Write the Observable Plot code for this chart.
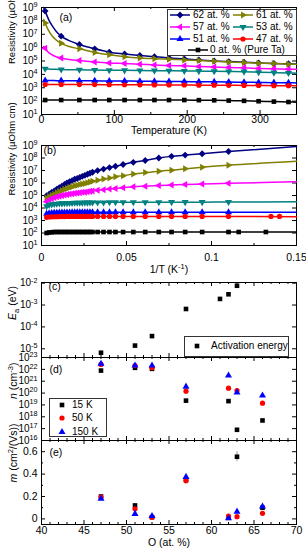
<!DOCTYPE html>
<html><head><meta charset="utf-8">
<script src="https://cdn.jsdelivr.net/npm/d3@7"></script>
<script src="https://cdn.jsdelivr.net/npm/@observablehq/plot@0.6"></script>
<style>
html,body{margin:0;padding:0;background:#fff;}
#chart{position:relative;width:306px;height:550px;overflow:hidden;font-family:"Liberation Sans",Arial,Helvetica,sans-serif;color:#000;}
#chart svg.panel{position:absolute;left:0;}
.lbox{position:absolute;border:1px solid #333;box-sizing:border-box;background:#fff;}
.ltxt{position:absolute;font-size:10px;line-height:1;transform:translateY(-50%);white-space:nowrap;}
.lsw{position:absolute;overflow:visible;}
</style></head><body><div id="chart"></div>
<script>
// ---------------- DATA ----------------
const seriesNames = ["62 at. %", "61 at. %", "57 at. %", "53 at. %", "51 at. %", "47 at. %", "0 at. % (Pure Ta)"];
const seriesColors = ["#000080", "#808000", "#ff00ff", "#008080", "#0000ff", "#ff0000", "#000000"];
const seriesShapes = ["diamond", "triangle-right", "triangle-left", "triangle-down", "triangle-up", "circle", "square"];

// (a) resistivity (µOhm cm) vs temperature (K)
const tempA = [3, 5, 10, 15, 20, 27, 38, 52, 73, 93, 114, 135, 155, 175, 196, 216, 237, 257, 278, 298, 319, 339, 350];
const markTempA = [5, 27, 52, 73, 93, 114, 135, 155, 175, 196, 216, 237, 257, 278, 298, 319, 339];
const rhoA62 = [1.0e9, 5.4e8, 1.2e8, 4.0e7, 1.7e7, 7.2e6, 3.3e6, 1.7e6, 8.1e5, 4.6e5, 3.4e5, 2.6e5, 2.1e5, 1.7e5, 1.45e5, 1.2e5, 1.02e5, 9.1e4, 8.1e4, 7.2e4, 6.5e4, 6.2e4, 6.0e4];
const rhoA61 = [1.3e8, 6.8e7, 1.8e7, 7.0e6, 3.8e6, 2.1e6, 1.2e6, 8.1e5, 4.3e5, 2.9e5, 2.1e5, 1.7e5, 1.5e5, 1.35e5, 1.2e5, 1.07e5, 9.5e4, 8.5e4, 7.8e4, 6.9e4, 6.5e4, 5.8e4, 5.6e4];
const rhoA57 = [1.2e6, 9.1e5, 4.2e5, 2.8e5, 2.1e5, 1.7e5, 1.3e5, 1.07e5, 8.5e4, 7.2e4, 6.5e4, 5.8e4, 5.1e4, 4.6e4, 4.4e4, 3.9e4, 3.6e4, 3.2e4, 3.1e4, 2.75e4, 2.6e4, 2.45e4, 2.4e4];
const rhoA53 = [2.7e4, 2.6e4, 2.5e4, 2.45e4, 2.4e4, 2.3e4, 2.25e4, 2.2e4, 2.1e4, 2.05e4, 2.0e4, 1.95e4, 1.9e4, 1.85e4, 1.8e4, 1.75e4, 1.7e4, 1.65e4, 1.6e4, 1.45e4, 1.35e4, 1.28e4, 1.23e4];
const rhoA51 = [3.5e3, 3.5e3, 3.45e3, 3.45e3, 3.4e3, 3.4e3, 3.38e3, 3.35e3, 3.3e3, 3.2e3, 3.15e3, 3.1e3, 3.0e3, 2.95e3, 2.9e3, 2.8e3, 2.75e3, 2.65e3, 2.6e3, 2.5e3, 2.4e3, 2.35e3, 2.3e3];
const rhoA47 = [1.75e3, 1.75e3, 1.75e3, 1.75e3, 1.75e3, 1.75e3, 1.74e3, 1.74e3, 1.72e3, 1.7e3, 1.68e3, 1.66e3, 1.64e3, 1.62e3, 1.6e3, 1.57e3, 1.55e3, 1.52e3, 1.5e3, 1.47e3, 1.44e3, 1.42e3, 1.4e3];
const rhoA0 = [120, 120, 120, 120, 120, 120, 120, 120, 120, 120, 120, 120, 120, 120, 120, 118, 115, 110, 105, 98, 92, 86, 83];
const rhoA = [rhoA62, rhoA61, rhoA57, rhoA53, rhoA51, rhoA47, rhoA0];

// (b) resistivity vs 1/T (1/K)
const invB = [0.003, 0.0045, 0.006, 0.0075, 0.009, 0.0105, 0.012, 0.0135, 0.015, 0.0165, 0.018, 0.0195, 0.021, 0.0225, 0.024, 0.0255, 0.027, 0.0285, 0.030, 0.033, 0.0365, 0.040, 0.0435, 0.048, 0.054, 0.061, 0.069, 0.0765, 0.0845, 0.0945, 0.11, 0.15];
const markMaxB = 0.11;
const rhoB62 = [9.5e4, 1.26e5, 1.8e5, 2.3e5, 3.2e5, 4.3e5, 5.6e5, 7.6e5, 1.0e6, 1.26e6, 1.55e6, 2.0e6, 2.3e6, 2.8e6, 3.4e6, 4.1e6, 5.0e6, 6.0e6, 7.2e6, 9.8e6, 1.3e7, 1.7e7, 2.2e7, 3.0e7, 4.5e7, 6.3e7, 1.0e8, 1.35e8, 1.7e8, 2.2e8, 3.3e8, 8.3e8];
const rhoB61 = [6.3e4, 8.3e4, 1.05e5, 1.26e5, 1.66e5, 2.1e5, 2.5e5, 3.2e5, 3.7e5, 4.3e5, 4.9e5, 6.0e5, 6.6e5, 7.6e5, 8.3e5, 9.3e5, 1.05e6, 1.2e6, 1.35e6, 1.66e6, 2.1e6, 2.5e6, 3.2e6, 3.8e6, 5.2e6, 6.8e6, 8.7e6, 1.07e7, 1.35e7, 1.8e7, 2.6e7, 5.4e7];
const rhoB57 = [3.2e4, 4.5e4, 5.6e4, 6.8e4, 7.9e4, 8.9e4, 1.0e5, 1.1e5, 1.2e5, 1.3e5, 1.38e5, 1.48e5, 1.58e5, 1.66e5, 1.78e5, 1.86e5, 2.0e5, 2.14e5, 2.3e5, 2.6e5, 2.95e5, 3.3e5, 3.7e5, 4.2e5, 5.0e5, 5.6e5, 6.3e5, 6.9e5, 7.6e5, 8.3e5, 9.5e5, 1.26e6];
const rhoB53 = [1.4e4, 1.75e4, 1.95e4, 2.1e4, 2.2e4, 2.3e4, 2.35e4, 2.4e4, 2.45e4, 2.5e4, 2.55e4, 2.6e4, 2.6e4, 2.65e4, 2.65e4, 2.7e4, 2.7e4, 2.75e4, 2.75e4, 2.8e4, 2.8e4, 2.85e4, 2.85e4, 2.85e4, 2.9e4, 2.9e4, 2.9e4, 2.95e4, 2.95e4, 2.95e4, 3.0e4, 3.1e4];
const rhoB51 = [3.5e3, 3.8e3, 4.0e3, 4.1e3, 4.2e3, 4.25e3, 4.3e3, 4.35e3, 4.4e3, 4.4e3, 4.45e3, 4.45e3, 4.5e3, 4.5e3, 4.5e3, 4.55e3, 4.55e3, 4.55e3, 4.6e3, 4.6e3, 4.6e3, 4.6e3, 4.6e3, 4.6e3, 4.6e3, 4.6e3, 4.6e3, 4.6e3, 4.6e3, 4.6e3, 4.6e3, 4.6e3];
const rhoB47 = [1.8e3, 1.9e3, 1.95e3, 2.0e3, 2.0e3, 2.05e3, 2.05e3, 2.05e3, 2.1e3, 2.1e3, 2.1e3, 2.1e3, 2.1e3, 2.1e3, 2.1e3, 2.1e3, 2.1e3, 2.1e3, 2.1e3, 2.1e3, 2.1e3, 2.1e3, 2.1e3, 2.1e3, 2.1e3, 2.1e3, 2.1e3, 2.1e3, 2.1e3, 2.1e3, 2.1e3, 2.0e3];
const rhoB0 = [100, 110, 115, 120, 120, 120, 120, 120, 120, 120, 120, 120, 120, 120, 120, 120, 120, 120, 120, 120, 120, 120, 120, 120, 120, 120, 120, 120, 120, 120, 120, 120];
const rhoB = [rhoB62, rhoB61, rhoB57, rhoB53, rhoB51, rhoB47, rhoB0];
// extra low-temperature points seen only for 47 % and pure Ta in (b)
const extraInvB47 = [0.135, 0.14], extraRhoB47 = [2.1e3, 2.1e3];
const extraInvB0 = [0.116, 0.132], extraRhoB0 = [120, 120];

// (c) activation energy (eV) vs O content
const oxygenC = [47, 51, 53, 57, 61, 62, 63];
const energyC = [6.6e-6, 1.4e-5, 3.8e-5, 6.6e-4, 1.9e-3, 3.1e-3, 7.6e-3];

// (d) carrier density (cm^-3) and (e) mobility (cm^2/(Vs)) vs O content
const oxygenDE = [47, 51, 53, 57, 62, 63, 66];
const tempLabels = ["15 K", "50 K", "150 K"];
const densD15 = [7.9e21, 1.35e22, 1.1e22, 2.3e19, 2.1e19, 8.0e16, 4.9e17];
const densD50 = [2.6e22, 2.1e22, 1.35e22, 1.45e20, 2.6e20, 1.65e20, 1.4e19];
const densD150 = [3.0e22, 2.1e22, 2.1e22, 3.5e20, 3.0e21, 1.1e20, 6.3e19];
const mobE15 = [0.20, 0.12, 0.015, 0.35, 0.01, 0.555, 0.10];
const mobE50 = [0.195, 0.09, 0.015, 0.34, 0.025, 0.02, 0.05];
const mobE150 = [0.18, 0.045, 0.025, 0.375, 0.005, 0.065, 0.11];
const mobErr15 = [0, 0, 0, 0, 0, 0.045, 0];
const tempColors = ["#000000", "#ff0000", "#0000ff"];
const tempShapes = ["square", "circle", "triangle-up"];

// tick values
const ticksXA = [0, 100, 200, 300], minorXA = [50, 150, 250];
const ticksXB = [0, 0.05, 0.1, 0.15], minorXB = [0.025, 0.075, 0.125];
const ticksYAB = [1e1, 1e2, 1e3, 1e4, 1e5, 1e6, 1e7, 1e8, 1e9];
const ticksYC = [1e-5, 1e-4, 1e-3, 1e-2];
const ticksYD = [1e16, 1e17, 1e18, 1e19, 1e20, 1e21, 1e22, 1e23];
const ticksYE = [0, 0.2, 0.4, 0.6], minorYE = [0.1, 0.3, 0.5];
const ticksXO = [40, 45, 50, 55, 60, 65, 70], minorXO = [41,42,43,44,46,47,48,49,51,52,53,54,56,57,58,59,61,62,63,64,66,67,68,69];

// ---------------- HELPERS ----------------
const W = 306, ML = 41, MR = 10, FW = W - ML - MR;
const FONT = "'Liberation Sans', Arial, Helvetica, sans-serif";
const chart = document.getElementById("chart");

function symbolOf(kind) {
  if (kind === "circle") return d3.symbolCircle;
  if (kind === "square") return d3.symbolSquare;
  if (kind === "diamond") return {draw(c, s) { const h = Math.sqrt(s / 2) * 1.05; c.moveTo(0, -h); c.lineTo(h, 0); c.lineTo(0, h); c.lineTo(-h, 0); c.closePath(); }};
  const ang = {"triangle-up": 0, "triangle-right": 90, "triangle-down": 180, "triangle-left": 270}[kind];
  return {draw(c, s) {
    const r = Math.sqrt(s / (3 * Math.sqrt(3) / 4));
    for (let k = 0; k < 3; k++) {
      const a = (ang + k * 120) * Math.PI / 180, x = r * Math.sin(a), y = -r * Math.cos(a);
      if (k) c.lineTo(x, y); else c.moveTo(x, y);
    }
    c.closePath();
  }};
}

function frameTicks(xMaj, xMin, yMaj, yMin, fh) {
  const m = [];
  const xt = (v, len) => { if (v.length) { m.push(Plot.ruleX(v, {insetTop: fh - len, stroke: "#000"})); m.push(Plot.ruleX(v, {insetBottom: fh - len, stroke: "#000"})); } };
  const yt = (v, len) => { if (v.length) { m.push(Plot.ruleY(v, {insetRight: FW - len, stroke: "#000"})); m.push(Plot.ruleY(v, {insetLeft: FW - len, stroke: "#000"})); } };
  xt(xMaj, 4); xt(xMin, 2); yt(yMaj, 4); yt(yMin, 2);
  return m;
}

const logFmt = d => "10^{" + Math.round(Math.log10(d)) + "}";

function richify(root) {
  const walker = document.createTreeWalker(root, NodeFilter.SHOW_TEXT);
  const nodes = [];
  while (walker.nextNode()) nodes.push(walker.currentNode);
  const splitter = /(\^\{[^}]*\}|_\{[^}]*\}|\*\{[^}]*\})/;
  for (const node of nodes) {
    const s = node.nodeValue;
    if (!splitter.test(s)) continue;
    const parent = node.parentNode;
    const base = parseFloat(getComputedStyle(parent).fontSize) || 10;
    const parts = s.split(splitter).filter(p => p !== "");
    let shift = 0;
    const frag = document.createDocumentFragment();
    for (const p of parts) {
      const ts = document.createElementNS("http://www.w3.org/2000/svg", "tspan");
      let target = 0, txt = p, size = null, italic = false;
      if (p.startsWith("^{")) { target = -0.38 * base; txt = p.slice(2, -1); size = 0.72 * base; }
      else if (p.startsWith("_{")) { target = 0.25 * base; txt = p.slice(2, -1); size = 0.72 * base; }
      else if (p.startsWith("*{")) { txt = p.slice(2, -1); italic = true; }
      const dy = target - shift;
      if (Math.abs(dy) > 1e-6) ts.setAttribute("dy", dy.toFixed(2));
      shift = target;
      if (size) ts.setAttribute("font-size", size.toFixed(2));
      if (italic) ts.setAttribute("font-style", "italic");
      ts.textContent = txt;
      frag.appendChild(ts);
    }
    parent.replaceChild(frag, node);
  }
}

function place(svg, top) {
  svg.classList.add("panel");
  svg.style.top = top + "px";
  chart.appendChild(svg);
  richify(svg);
}

const baseStyle = {background: "transparent", fontFamily: FONT, fontSize: "10px", overflow: "visible"};

// ---------------- PANEL (a) ----------------
{
  const mt = 7, mb = 21, h = 135, fh = h - mt - mb;
  const marks = [Plot.frame({stroke: "#000"}), ...frameTicks(ticksXA, minorXA, ticksYAB, [], fh)];
  seriesNames.forEach((name, s) => {
    const rows = tempA.map((T, i) => ({T, v: rhoA[s][i]}));
    marks.push(Plot.line(rows, {x: "T", y: "v", stroke: seriesColors[s], strokeWidth: 1.5, curve: "monotone-x"}));
    marks.push(Plot.dot(rows.filter(d => markTempA.includes(d.T)), {x: "T", y: "v", r: 2.6, fill: seriesColors[s], symbol: symbolOf(seriesShapes[s])}));
  });
  marks.push(Plot.text(ticksXA, {x: d => d, frameAnchor: "bottom", dy: 5, text: d => String(d), lineAnchor: "middle", fontSize: 10.5}));
  marks.push(Plot.text(ticksYAB, {y: d => d, frameAnchor: "left", dx: -4, textAnchor: "end", text: logFmt, lineAnchor: "middle", fontSize: 10}));
  marks.push(Plot.text(["Temperature (K)"], {frameAnchor: "bottom", dy: 16, lineAnchor: "middle", fontSize: 10.5}));
  marks.push(Plot.text(["Resistivity (µOhm cm)"], {frameAnchor: "left", dx: -30, dy: 3, rotate: -90, lineAnchor: "middle", fontSize: 9.5}));
  marks.push(Plot.text(["(a)"], {frameAnchor: "top-left", dx: 18, dy: 10, textAnchor: "start", lineAnchor: "middle", fontSize: 10.5}));
  const svg = Plot.plot({width: W, height: h, marginLeft: ML, marginRight: MR, marginTop: mt, marginBottom: mb,
    style: baseStyle, x: {domain: [0, 350], axis: null}, y: {type: "log", domain: [10, 1e9], axis: null}, marks});
  place(svg, 0);
}

// ---------------- PANEL (b) ----------------
{
  const top = 135, mt = 10, mb = 35, h = 145, fh = h - mt - mb;
  const marks = [Plot.frame({stroke: "#000"}), ...frameTicks(ticksXB, minorXB, ticksYAB, [], fh)];
  seriesNames.forEach((name, s) => {
    const rows = invB.map((x, i) => ({x, v: rhoB[s][i]}));
    marks.push(Plot.line(rows, {x: "x", y: "v", stroke: seriesColors[s], strokeWidth: 1.5, curve: "monotone-x"}));
    marks.push(Plot.dot(rows.filter(d => d.x <= markMaxB), {x: "x", y: "v", r: 2.6, fill: seriesColors[s], symbol: symbolOf(seriesShapes[s])}));
  });
  marks.push(Plot.dot(extraInvB47.map((x, i) => ({x, v: extraRhoB47[i]})), {x: "x", y: "v", r: 2.6, fill: seriesColors[5], symbol: symbolOf(seriesShapes[5])}));
  marks.push(Plot.dot(extraInvB0.map((x, i) => ({x, v: extraRhoB0[i]})), {x: "x", y: "v", r: 2.6, fill: seriesColors[6], symbol: symbolOf(seriesShapes[6])}));
  marks.push(Plot.text(ticksXB, {x: d => d, frameAnchor: "bottom", dy: 12, text: d => String(d), lineAnchor: "middle", fontSize: 10.5}));
  marks.push(Plot.text(ticksYAB, {y: d => d, frameAnchor: "left", dx: -4, textAnchor: "end", text: logFmt, lineAnchor: "middle", fontSize: 10}));
  marks.push(Plot.text(["1/T (K^{-1})"], {frameAnchor: "bottom", dy: 24, lineAnchor: "middle", fontSize: 10.5}));
  marks.push(Plot.text(["Resistivity (µOhm cm)"], {frameAnchor: "left", dx: -30, rotate: -90, lineAnchor: "middle", fontSize: 9.5}));
  marks.push(Plot.text(["(b)"], {frameAnchor: "top-left", dx: 2, dy: 5, textAnchor: "start", lineAnchor: "middle", fontSize: 10.5}));
  const svg = Plot.plot({width: W, height: h, marginLeft: ML, marginRight: MR, marginTop: mt, marginBottom: mb,
    style: baseStyle, x: {domain: [0, 0.15], axis: null}, y: {type: "log", domain: [10, 1e9], axis: null}, marks});
  place(svg, top);
}

// ---------------- PANEL (c) ----------------
{
  const top = 270, mt = 12, mb = 3, h = 90, fh = h - mt - mb;
  const rows = oxygenC.map((o, i) => ({o, v: energyC[i]}));
  const marks = [Plot.frame({stroke: "#000"}), ...frameTicks(ticksXO, minorXO, ticksYC, [], fh),
    Plot.dot(rows, {x: "o", y: "v", r: 2.6, fill: "#000", symbol: d3.symbolSquare}),
    Plot.text(ticksYC, {y: d => d, frameAnchor: "left", dx: -4, textAnchor: "end", text: logFmt, lineAnchor: "middle", fontSize: 10}),
    Plot.text(["*{E}_{a} (eV)"], {frameAnchor: "left", dx: -29, rotate: -90, lineAnchor: "middle", fontSize: 10.5}),
    Plot.text(["(c)"], {frameAnchor: "top-left", dx: 7, dy: 4, textAnchor: "start", lineAnchor: "middle", fontSize: 10.5})];
  const svg = Plot.plot({width: W, height: h, marginLeft: ML, marginRight: MR, marginTop: mt, marginBottom: mb,
    style: baseStyle, x: {domain: [40, 70], axis: null}, y: {type: "log", domain: [4e-6, 1.07e-2], axis: null}, marks});
  place(svg, top);
}

// ---------------- PANEL (d) ----------------
{
  const top = 350, mt = 7, mb = 0, h = 90, fh = h - mt - mb;
  const sets = [densD15, densD50, densD150];
  const marks = [Plot.frame({stroke: "#000"}), ...frameTicks(ticksXO, minorXO, ticksYD, [], fh)];
  sets.forEach((arr, k) => {
    const rows = oxygenDE.map((o, i) => ({o, v: arr[i]}));
    marks.push(Plot.dot(rows, {x: "o", y: "v", r: 2.6, fill: tempColors[k], symbol: symbolOf(tempShapes[k])}));
  });
  marks.push(Plot.text(ticksYD, {y: d => d, frameAnchor: "left", dx: -4, textAnchor: "end", text: logFmt, lineAnchor: "middle", fontSize: 10}));
  marks.push(Plot.text(["*{n} (cm^{-3})"], {frameAnchor: "left", dx: -28, rotate: -90, lineAnchor: "middle", fontSize: 10.5}));
  marks.push(Plot.text(["(d)"], {frameAnchor: "top-left", dx: 8, dy: 12, textAnchor: "start", lineAnchor: "middle", fontSize: 10.5}));
  const svg = Plot.plot({width: W, height: h, marginLeft: ML, marginRight: MR, marginTop: mt, marginBottom: mb,
    style: baseStyle, x: {domain: [40, 70], axis: null}, y: {type: "log", domain: [1e16, 1e23], axis: null}, marks});
  place(svg, top);
}

// ---------------- PANEL (e) ----------------
{
  const top = 433, mt = 7, mb = 26, h = 117, fh = h - mt - mb;
  const sets = [mobE15, mobE50, mobE150];
  const marks = [Plot.frame({stroke: "#000"}), ...frameTicks(ticksXO, minorXO, ticksYE, minorYE, fh)];
  const errRows = oxygenDE.map((o, i) => ({o, lo: mobE15[i] - mobErr15[i], hi: mobE15[i] + mobErr15[i], e: mobErr15[i]})).filter(d => d.e > 0);
  marks.push(Plot.ruleX(errRows, {x: "o", y1: "lo", y2: "hi", stroke: "#9a9a9a", strokeWidth: 1}));
  sets.forEach((arr, k) => {
    const rows = oxygenDE.map((o, i) => ({o, v: arr[i]}));
    marks.push(Plot.dot(rows, {x: "o", y: "v", r: 2.6, fill: tempColors[k], symbol: symbolOf(tempShapes[k])}));
  });
  marks.push(Plot.text(ticksXO, {x: d => d, frameAnchor: "bottom", dy: 6, text: d => String(d), lineAnchor: "middle", fontSize: 10.5}));
  marks.push(Plot.text(ticksYE, {y: d => d, frameAnchor: "left", dx: -4, textAnchor: "end", text: d => String(d), lineAnchor: "middle", fontSize: 10.5}));
  marks.push(Plot.text(["O (at. %)"], {frameAnchor: "bottom", dy: 18, lineAnchor: "middle", fontSize: 10.5}));
  marks.push(Plot.text(["*{m} (cm^{2}/(Vs))"], {frameAnchor: "left", dx: -28, rotate: -90, lineAnchor: "middle", fontSize: 10.5}));
  marks.push(Plot.text(["(e)"], {frameAnchor: "top-left", dx: 8, dy: 12, textAnchor: "start", lineAnchor: "middle", fontSize: 10.5}));
  const svg = Plot.plot({width: W, height: h, marginLeft: ML, marginRight: MR, marginTop: mt, marginBottom: mb,
    style: baseStyle, x: {domain: [40, 70], axis: null}, y: {domain: [-0.05, 0.7], axis: null}, marks});
  place(svg, top);
}

// ---------------- LEGENDS (HTML overlays) ----------------
function legendBox(left, top, w, h) {
  const d = document.createElement("div");
  d.className = "lbox";
  Object.assign(d.style, {left: left + "px", top: top + "px", width: w + "px", height: h + "px"});
  chart.appendChild(d);
}
function legendEntry(cx, cy, lineW, color, shape, label, textX, size = 2.6) {
  const svg = d3.create("svg").attr("class", "lsw").attr("width", 24).attr("height", 12)
    .style("left", (cx - 12) + "px").style("top", (cy - 6) + "px");
  if (lineW > 0) svg.append("line").attr("x1", 12 - lineW / 2).attr("x2", 12 + lineW / 2).attr("y1", 6).attr("y2", 6)
    .attr("stroke", color).attr("stroke-width", 1.5);
  const p = d3.path();
  symbolOf(shape).draw(p, size * size * Math.PI);
  svg.append("path").attr("d", p.toString()).attr("transform", "translate(12,6)").attr("fill", color);
  chart.appendChild(svg.node());
  const t = document.createElement("div");
  t.className = "ltxt";
  t.textContent = label;
  Object.assign(t.style, {left: textX + "px", top: cy + "px"});
  chart.appendChild(t);
}
// (a) legend
legendBox(167, 9, 130, 47);
const legendCells = [[180, 15, 193], [243, 15, 256], [180, 27, 193], [243, 27, 256], [180, 38.5, 193], [243, 38.5, 256], [198, 50, 210]];
seriesNames.forEach((name, s) => {
  const [cx, cy, tx] = legendCells[s];
  legendEntry(cx, cy, 20, seriesColors[s], seriesShapes[s], name, tx);
});
// (c) legend
legendBox(184, 336, 105, 21);
legendEntry(197, 346, 0, "#000", "square", "Activation energy", 211);
// (d) legend
legendBox(49, 398, 58, 39);
tempLabels.forEach((lab, k) => legendEntry(62, 404.5 + k * 13.5, 0, tempColors[k], tempShapes[k], lab, 72));
</script></body></html>
